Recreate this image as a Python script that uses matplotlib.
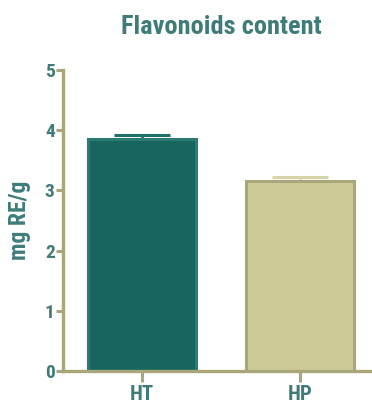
import matplotlib
matplotlib.use("Agg")
import matplotlib.pyplot as plt

categories = ["HT", "HP"]
means = [3.85, 3.15]
errors = [0.07, 0.08]
yticks = [0, 1, 2, 3, 4, 5]

fill_colors = ["#16655F", "#CCCB98"]
edge_colors = ["#2B7A74", "#A9A77A"]
cap_colors = ["#1E716B", "#D6D5AA"]
axis_color = "#A9A77A"
text_color = "#3F7C79"

plt.rcParams["font.family"] = ["Roboto Condensed", "Archivo Narrow", "Liberation Sans", "DejaVu Sans"]
plt.rcParams["font.weight"] = "bold"

fig = plt.figure(figsize=(3.72, 4.08), dpi=100)
ax = fig.add_axes([63 / 372, 37 / 408, 1 - 63 / 372, 301 / 408])

x = list(range(len(categories)))
for i in x:
    ax.errorbar(i, means[i], yerr=[[0], [errors[i]]], fmt="none",
                ecolor=cap_colors[i], elinewidth=1.8, capsize=20, capthick=2.2, zorder=1)
ax.bar(x, means, width=0.68, color=fill_colors, edgecolor=edge_colors,
       linewidth=2.2, zorder=2)

ax.set_xlim(-0.5, 1.456)
ax.set_ylim(0, 5)
ax.set_yticks(yticks)
ax.set_xticks(x)
ax.set_xticklabels(categories)

for side in ("top", "right"):
    ax.spines[side].set_visible(False)
for side in ("left", "bottom"):
    ax.spines[side].set_color(axis_color)
    ax.spines[side].set_linewidth(2.4)

ax.tick_params(axis="y", colors=axis_color, length=5, width=2.2, pad=1,
               labelcolor=text_color, labelsize=14)
ax.tick_params(axis="x", colors=axis_color, length=8, width=2.2, pad=2,
               labelcolor=text_color, labelsize=15)
for lab in ax.get_xticklabels() + ax.get_yticklabels():
    lab.set_fontweight("bold")

ax.set_ylabel("mg RE/g", color=text_color, fontsize=17, fontweight="bold", labelpad=10)
fig.text(221 / 372, 1 - 27 / 408, "Flavonoids content", color=text_color,
         fontsize=19, fontweight="bold", ha="center", va="center")

fig.savefig("out.png", dpi=100)
